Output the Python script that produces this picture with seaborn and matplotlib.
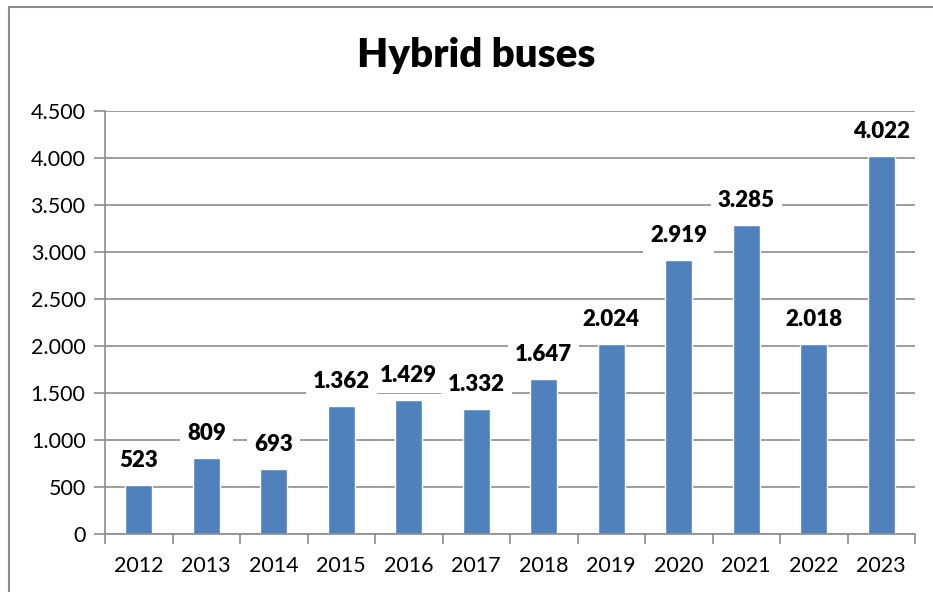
import matplotlib
matplotlib.use('Agg')
import matplotlib.pyplot as plt
import matplotlib.patches as patches
from matplotlib.ticker import FuncFormatter, FixedLocator
import seaborn as sns
import pandas as pd

years = ['2012', '2013', '2014', '2015', '2016', '2017',
         '2018', '2019', '2020', '2021', '2022', '2023']
buses = [523, 809, 693, 1362, 1429, 1332, 1647, 2024, 2919, 3285, 2018, 4022]
title = 'Hybrid buses'

sns.set_style('white')
plt.rcParams['font.family'] = ['Lato', 'DejaVu Sans']
plt.rcParams['text.color'] = 'black'
plt.rcParams['xtick.color'] = 'black'
plt.rcParams['ytick.color'] = 'black'

df = pd.DataFrame({'year': years, 'buses': buses})

fig = plt.figure(figsize=(9.33, 5.92), dpi=100)
ax = fig.add_axes([105 / 933, 58 / 592, 810 / 933, 423 / 592])

sns.barplot(data=df, x='year', y='buses', color='#4F81BD', width=0.4,
            saturation=1, ax=ax, zorder=2)

def dotted(v, pos):
    return f'{int(v):,}'.replace(',', '.')

ax.set_ylim(0, 4500)
ax.set_xlim(-0.5, len(years) - 0.5)
ax.set_yticks(range(0, 4501, 500))
ax.yaxis.set_major_formatter(FuncFormatter(dotted))
ax.yaxis.grid(True, color='#8c8c8c', linewidth=1.2, zorder=0)
ax.set_axisbelow(True)

# ticks on the category boundaries
ax.xaxis.set_minor_locator(FixedLocator([i - 0.5 for i in range(len(years) + 1)]))
ax.tick_params(axis='x', which='major', length=0, pad=16, labelsize=15.5,
               labelcolor='black')
ax.tick_params(axis='x', which='minor', length=7, width=1.2, color='#8c8c8c', direction='out', bottom=True)
ax.tick_params(axis='y', length=8, width=1.2, color='#8c8c8c', labelsize=15.5, pad=6, left=True,
               labelcolor='black')

for side in ['top', 'right']:
    ax.spines[side].set_visible(False)
for side in ['left', 'bottom']:
    ax.spines[side].set_color('#8c8c8c')
    ax.spines[side].set_linewidth(1.2)

ax.set_xlabel('')
ax.set_ylabel('')

ax.bar_label(ax.containers[0], labels=[dotted(v, None) for v in buses],
             padding=10, fontsize=16, fontweight='heavy', color='black', zorder=3,
             bbox=dict(facecolor='white', edgecolor='none', pad=5))

fig.suptitle(title, x=476 / 933, y=1 - 55 / 592, va='center',
             fontsize=29, fontweight='heavy', color='black')

# outer chart border
fig.patches.append(patches.Rectangle((9 / 933, -0.5), 2, 1.5 - 7 / 592,
                                     transform=fig.transFigure, fill=False,
                                     edgecolor='#8c8c8c', linewidth=1.5))

fig.savefig('out.png', dpi=100)
